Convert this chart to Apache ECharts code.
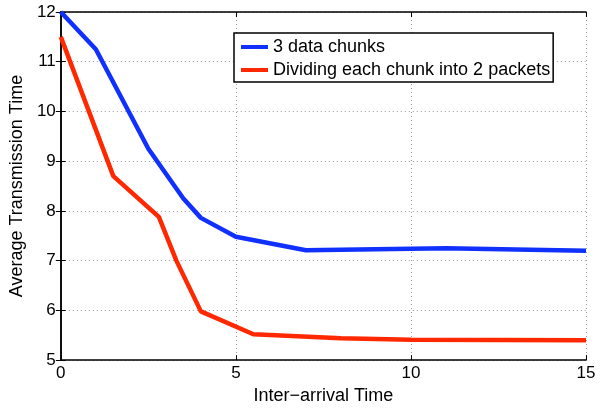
<!DOCTYPE html>
<html>
<head>
<meta charset="utf-8">
<script src="https://cdn.jsdelivr.net/npm/echarts@6/dist/echarts.min.js"></script>
<style>
html,body{margin:0;padding:0;background:#fff;overflow:hidden;}
#chart{width:611px;height:410px;position:absolute;left:0;top:0;}
</style>
</head>
<body>
<div id="chart"></div>
<script>
var seriesNames = ['3 data chunks', 'Dividing each chunk into 2 packets'];
var chunksX = [0, 1, 2.5, 3.5, 4, 5, 7, 11, 15];
var chunksY = [12, 11.25, 9.25, 8.25, 7.86, 7.48, 7.21, 7.25, 7.2];
var packetsX = [0, 1.5, 2.8, 3.3, 4, 5.5, 8, 10, 15];
var packetsY = [11.5, 8.7, 7.88, 7.0, 5.98, 5.52, 5.44, 5.41, 5.4];
var xTicks = [0, 5, 10, 15];
var yTicks = [5, 6, 7, 8, 9, 10, 11, 12];

function pairs(xs, ys) { return xs.map(function (x, i) { return [x, ys[i]]; }); }

var FONT = 'Liberation Sans, Arial, Helvetica, sans-serif';
var chart = echarts.init(document.getElementById('chart'), null, {renderer: 'canvas', width: 611, height: 410});
var gridLine = {show: true, lineStyle: {color: '#9a9a9a', type: [1, 3], width: 1}};
var axisLine = {show: true, lineStyle: {color: '#000', width: 1.5}};
var tick = {show: true, inside: true, length: 5, lineStyle: {color: '#000', width: 1}};

chart.setOption({
  backgroundColor: '#fff',
  animation: false,
  grid: {left: 59, right: 25, top: 12, bottom: 43, show: false},
  legend: {
    data: seriesNames,
    orient: 'vertical',
    left: 234, top: 33,
    padding: [5, 3, 3, 7],
    itemGap: 5,
    itemWidth: 27, itemHeight: 4,
    icon: 'rect',
    borderColor: '#000', borderWidth: 1.5,
    backgroundColor: '#fff',
    textStyle: {fontFamily: FONT, fontSize: 18, color: '#000', lineHeight: 18}
  },
  xAxis: [{
    type: 'value', min: xTicks[0], max: xTicks[xTicks.length - 1], interval: 5,
    position: 'bottom',
    name: 'Inter\u2212arrival Time', nameLocation: 'middle', nameGap: 22,
    nameTextStyle: {fontFamily: FONT, fontSize: 18, color: '#000'},
    axisLine: axisLine, axisTick: tick,
    axisLabel: {fontFamily: FONT, fontSize: 17, color: '#000', margin: 5},
    splitLine: gridLine
  }, {
    type: 'value', min: xTicks[0], max: xTicks[xTicks.length - 1], interval: 5,
    position: 'top',
    axisLine: axisLine, axisTick: tick, axisLabel: {show: false}, splitLine: {show: false}
  }],
  yAxis: [{
    type: 'value', min: yTicks[0], max: yTicks[yTicks.length - 1], interval: 1,
    position: 'left',
    name: 'Average Transmission Time', nameLocation: 'middle', nameGap: 31,
    nameTextStyle: {fontFamily: FONT, fontSize: 18, color: '#000'},
    axisLine: axisLine, axisTick: tick,
    axisLabel: {fontFamily: FONT, fontSize: 17, color: '#000', margin: 5},
    splitLine: gridLine
  }, {
    type: 'value', min: yTicks[0], max: yTicks[yTicks.length - 1], interval: 1,
    position: 'right',
    axisLine: axisLine, axisTick: tick, axisLabel: {show: false}, splitLine: {show: false}
  }],
  series: [{
    name: seriesNames[0], type: 'line', data: pairs(chunksX, chunksY),
    showSymbol: false, symbol: 'none',
    lineStyle: {color: '#1030ff', width: 4.5},
    itemStyle: {color: '#1030ff'}
  }, {
    name: seriesNames[1], type: 'line', data: pairs(packetsX, packetsY),
    showSymbol: false, symbol: 'none',
    lineStyle: {color: '#ff2800', width: 4.5},
    itemStyle: {color: '#ff2800'}
  }]
});
</script>
</body>
</html>
